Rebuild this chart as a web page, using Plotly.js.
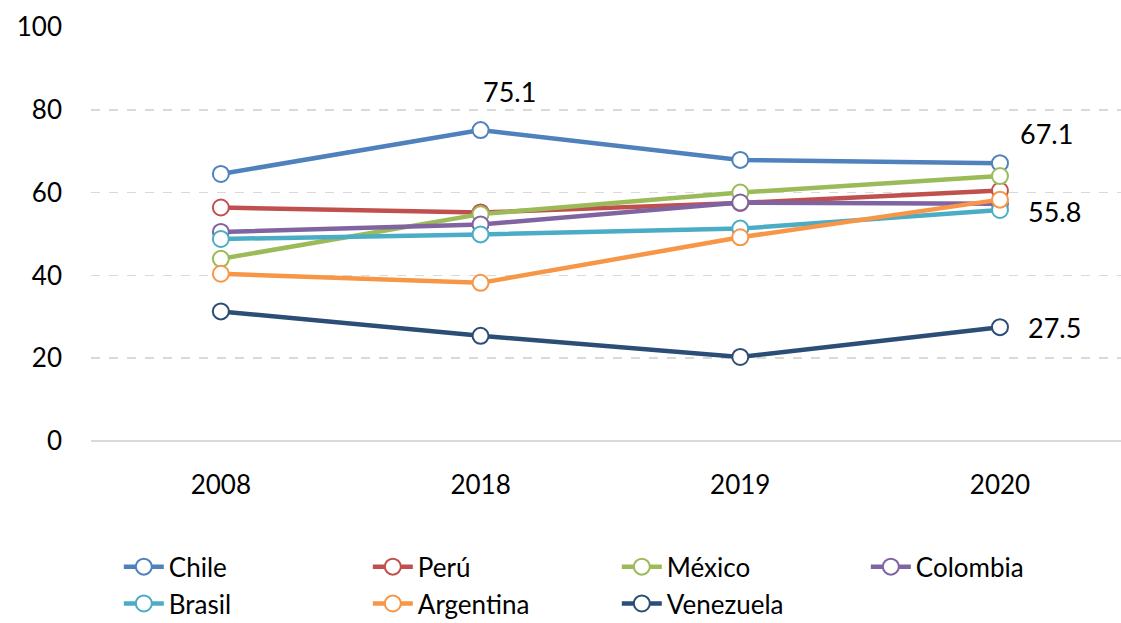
<!DOCTYPE html>
<html>
<head>
<meta charset="utf-8">
<script src="https://cdn.plot.ly/plotly-3.0.1.min.js"></script>
<style>html,body{margin:0;padding:0;background:#fff;}#chart{width:1121px;height:623px;}</style>
</head>
<body>
<div id="chart"></div>
<script>
const years = ['2008', '2018', '2019', '2020'];
const chile = [64.5, 75.1, 67.9, 67.1];
const peru = [56.4, 55.2, 57.5, 60.5];
const mexico = [44.0, 54.8, 60.0, 64.0];
const colombia = [50.5, 52.3, 57.6, 57.3];
const brasil = [48.8, 49.9, 51.3, 55.8];
const argentina = [40.4, 38.2, 49.2, 58.3];
const venezuela = [31.3, 25.4, 20.3, 27.5];

const seriesNames = ['Chile', 'Perú', 'México', 'Colombia', 'Brasil', 'Argentina', 'Venezuela'];
const seriesData = [chile, peru, mexico, colombia, brasil, argentina, venezuela];
const seriesColors = ['#4F81BD', '#C0504D', '#9BBB59', '#8064A2', '#4BACC6', '#F79646', '#2C4D75'];

const font = 'Lato, sans-serif';

const traces = seriesNames.map((n, i) => ({
  type: 'scatter',
  mode: 'lines+markers',
  name: n,
  x: years,
  y: seriesData[i],
  line: {color: seriesColors[i], width: 4.5},
  marker: {symbol: 'circle', size: 16, color: '#FFFFFF', line: {color: seriesColors[i], width: 2}},
  cliponaxis: false
}));

const labelFont = {family: font, size: 27, color: '#000'};
const i2018 = years.indexOf('2018');
const i2020 = years.indexOf('2020');
const annotations = [
  {x: i2018, y: chile[i2018], text: chile[i2018].toFixed(1), xref: 'x', yref: 'y', showarrow: false, xshift: 29, yshift: 39, font: labelFont},
  {x: i2020, y: chile[i2020], text: chile[i2020].toFixed(1), xref: 'x', yref: 'y', showarrow: false, xshift: 47, yshift: 30, font: labelFont},
  {x: i2020, y: brasil[i2020], text: brasil[i2020].toFixed(1), xref: 'x', yref: 'y', showarrow: false, xshift: 55, yshift: -2, font: labelFont},
  {x: i2020, y: venezuela[i2020], text: venezuela[i2020].toFixed(1), xref: 'x', yref: 'y', showarrow: false, xshift: 55, yshift: 0, font: labelFont}
];

const layout = {
  width: 1121, height: 623,
  margin: {l: 91, r: 0, t: 27, b: 182},
  paper_bgcolor: '#FFFFFF', plot_bgcolor: '#FFFFFF',
  font: {family: font, size: 26, color: '#000'},
  showlegend: true,
  legend: {
    orientation: 'h', xref: 'container', x: 0.106, xanchor: 'left',
    yref: 'container', y: 0.128, yanchor: 'top',
    entrywidth: 194, entrywidthmode: 'pixels',
    font: {family: font, size: 26, color: '#000'},
    tracegroupgap: 0, itemwidth: 40
  },
  xaxis: {
    type: 'category', range: [-0.5, 3.466],
    showgrid: false, zeroline: false, showline: false,
    ticks: '', ticklabelstandoff: 26,
    tickfont: {family: font, size: 26, color: '#000'}
  },
  yaxis: {
    range: [0, 100], dtick: 20, tick0: 0,
    showgrid: true, gridcolor: '#D9D9D9', gridwidth: 1.5, griddash: 'dash',
    zeroline: true, zerolinecolor: '#D9D9D9', zerolinewidth: 1.5,
    showline: false, ticks: '', ticklabelstandoff: 28,
    tickfont: {family: font, size: 26, color: '#000'}
  },
  annotations: annotations
};

Plotly.newPlot('chart', traces, layout, {displayModeBar: false, staticPlot: true});
</script>
</body>
</html>
